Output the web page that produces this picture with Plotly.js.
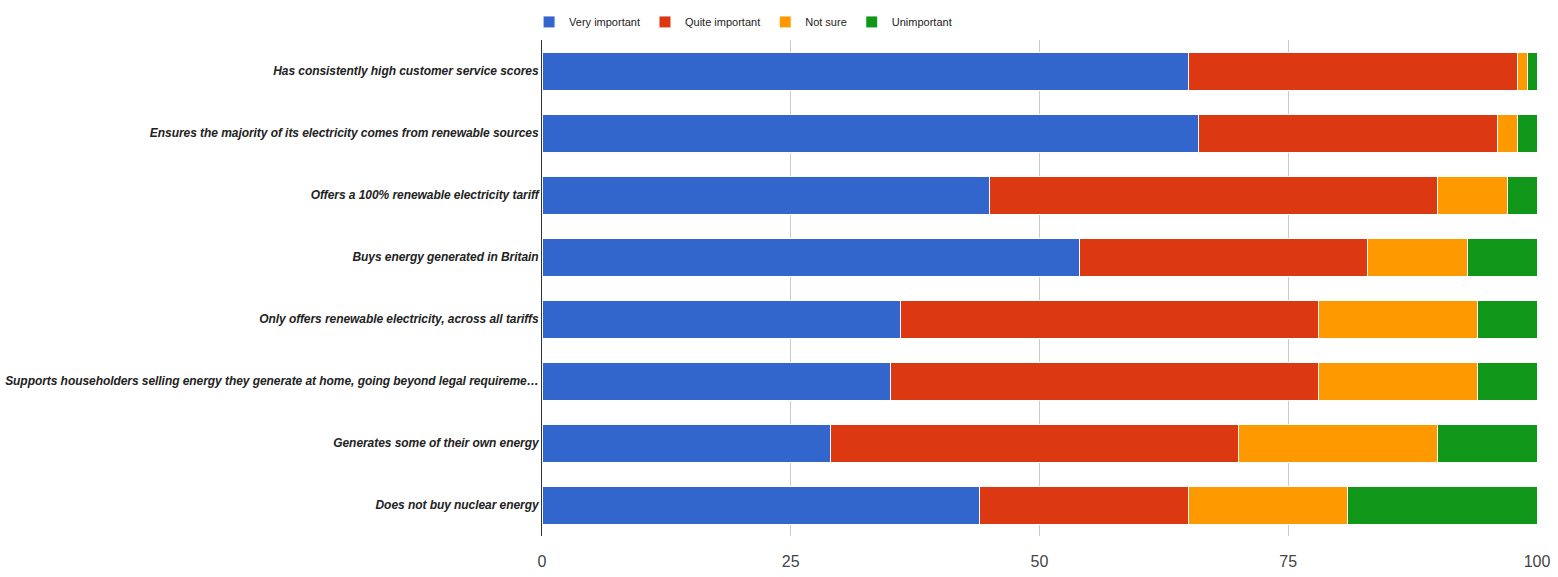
<!DOCTYPE html>
<html>
<head>
<meta charset="utf-8">
<script src="https://cdn.plot.ly/plotly-3.0.1.min.js"></script>
<style>html,body{margin:0;padding:0;background:#fff;}#chart{width:1558px;height:577px;}</style>
</head>
<body>
<div id="chart"></div>
<script>
const categories = [
  "Has consistently high customer service scores",
  "Ensures the majority of its electricity comes from renewable sources",
  "Offers a 100% renewable electricity tariff",
  "Buys energy generated in Britain",
  "Only offers renewable electricity, across all tariffs",
  "Supports householders selling energy they generate at home, going beyond legal requireme…",
  "Generates some of their own energy",
  "Does not buy nuclear energy"
];
const veryImportant  = [65, 66, 45, 54, 36, 35, 29, 44];
const quiteImportant = [33, 30, 45, 29, 42, 43, 41, 21];
const notSure        = [1, 2, 7, 10, 16, 16, 20, 16];
const unimportant    = [1, 2, 3, 7, 6, 6, 10, 19];
const seriesNames = ["Very important", "Quite important", "Not sure", "Unimportant"];
const seriesColors = ["#3366cc", "#dc3912", "#ff9900", "#109618"];
const tickValues = [0, 25, 50, 75, 100];

const allSeries = [veryImportant, quiteImportant, notSure, unimportant];
const traces = allSeries.map((vals, i) => ({
  type: 'bar',
  orientation: 'h',
  name: seriesNames[i],
  x: vals,
  y: categories,
  marker: {color: seriesColors[i], line: {color: '#ffffff', width: 1}},
  hoverinfo: 'x+y+name'
}));

const layout = {
  width: 1558, height: 577,
  barmode: 'stack',
  bargap: 0.387,
  margin: {l: 542, r: 21, t: 40, b: 41, pad: 0},
  paper_bgcolor: '#ffffff',
  plot_bgcolor: '#ffffff',
  showlegend: true,
  legend: {
    orientation: 'h', x: -0.013, xanchor: 'left',
    yref: 'container', y: 0.962, yanchor: 'middle',
    font: {family: 'Liberation Sans, Arial, sans-serif', size: 11, color: '#222222'},
    traceorder: 'normal', itemwidth: 30
  },
  xaxis: {
    range: [0, 100],
    tickvals: tickValues,
    ticktext: tickValues.map(String),
    showgrid: true, gridcolor: '#cccccc', gridwidth: 1,
    zeroline: false,
    showline: false,
    ticks: 'outside', ticklen: 11, tickcolor: 'rgba(0,0,0,0)',
    tickfont: {family: 'Liberation Sans Narrow, Arial Narrow, sans-serif', size: 16, color: '#444444'},
    fixedrange: true
  },
  yaxis: {
    autorange: 'reversed',
    showline: true, linecolor: '#333333', linewidth: 1,
    showgrid: false, zeroline: false,
    ticks: '', ticklabelstandoff: 0,
    tickfont: {family: 'Liberation Sans, Arial, sans-serif', size: 12, color: '#222222', weight: 'bold', style: 'italic'},
    automargin: false,
    fixedrange: true
  }
};

Plotly.newPlot('chart', traces, layout, {displayModeBar: false, staticPlot: true}).then(() => {
  document.querySelectorAll('.ytick text').forEach(t => { t.style.letterSpacing = '-0.06px'; });
});
</script>
</body>
</html>
